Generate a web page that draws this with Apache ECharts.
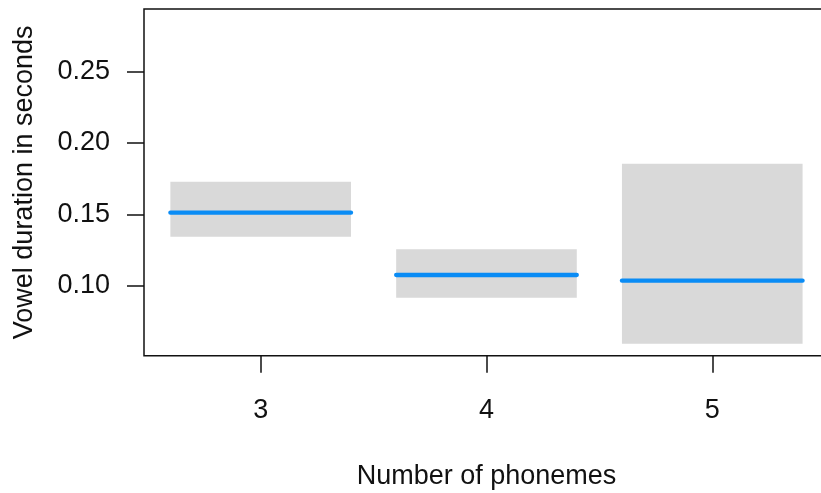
<!DOCTYPE html>
<html>
<head>
<meta charset="utf-8">
<script src="https://cdn.jsdelivr.net/npm/echarts@6/dist/echarts.min.js"></script>
<style>
html,body{margin:0;padding:0;background:#fff;}
#chart{width:821px;height:493px;}
</style>
</head>
<body>
<div id="chart"></div>
<script>
var categories = [3, 4, 5];
var fitValues = [0.1513, 0.1077, 0.1037];
var lowerValues = [0.1345, 0.0918, 0.0597];
var upperValues = [0.1729, 0.1257, 0.1855];
var yTickValues = [0.10, 0.15, 0.20, 0.25];
var xTickValues = [3, 4, 5];

var halfWidth = 0.4;
var data = categories.map(function (c, i) {
  return [c, fitValues[i], lowerValues[i], upperValues[i]];
});

var chart = echarts.init(document.getElementById('chart'), null, {renderer: 'canvas'});
var fontFam = '"Liberation Sans", Arial, sans-serif';
chart.setOption({
  animation: false,
  backgroundColor: '#ffffff',
  grid: {
    left: 144, top: 9, width: 685, height: 346.7,
    outerBoundsMode: 'none',
    containLabel: false,
    show: true, borderColor: '#111', borderWidth: 1.5, backgroundColor: 'transparent'
  },
  xAxis: {
    type: 'value',
    min: 2.4832, max: 5.517,
    name: 'Number of phonemes',
    nameLocation: 'middle',
    nameGap: 107,
    nameTextStyle: {fontSize: 27, color: '#111', fontFamily: fontFam},
    axisLine: {show: false},
    splitLine: {show: false},
    axisTick: {show: true, length: 17, inside: false, customValues: xTickValues,
      lineStyle: {color: '#111', width: 1.5}},
    axisLabel: {customValues: xTickValues, margin: 41, fontSize: 27, color: '#111', fontFamily: fontFam,
      formatter: function (v) { return String(Math.round(v)); }}
  },
  yAxis: {
    type: 'value',
    min: 0.05126, max: 0.2937,
    name: 'Vowel duration in seconds',
    nameLocation: 'middle',
    nameGap: 106,
    nameTextStyle: {fontSize: 27, color: '#111', fontFamily: fontFam},
    axisLine: {show: false},
    splitLine: {show: false},
    axisTick: {show: true, length: 17, inside: false, customValues: yTickValues,
      lineStyle: {color: '#111', width: 1.5}},
    axisLabel: {customValues: yTickValues, margin: 34, fontSize: 27, color: '#111', fontFamily: fontFam,
      formatter: function (v) { return v.toFixed(2); }}
  },
  series: [{
    type: 'custom',
    data: data,
    clip: true,
    renderItem: function (params, api) {
      var x = api.value(0);
      var p1 = api.coord([x - halfWidth, api.value(3)]);
      var p2 = api.coord([x + halfWidth, api.value(2)]);
      var l1 = api.coord([x - halfWidth, api.value(1)]);
      var l2 = api.coord([x + halfWidth, api.value(1)]);
      return {
        type: 'group',
        children: [{
          type: 'rect',
          shape: {x: p1[0], y: p1[1], width: p2[0] - p1[0], height: p2[1] - p1[1]},
          style: {fill: '#d9d9d9', stroke: null}
        }, {
          type: 'line',
          shape: {x1: l1[0], y1: l1[1], x2: l2[0], y2: l2[1]},
          style: {stroke: '#0a8cf5', lineWidth: 4.3, lineCap: 'round'}
        }]
      };
    }
  }]
});
</script>
</body>
</html>
